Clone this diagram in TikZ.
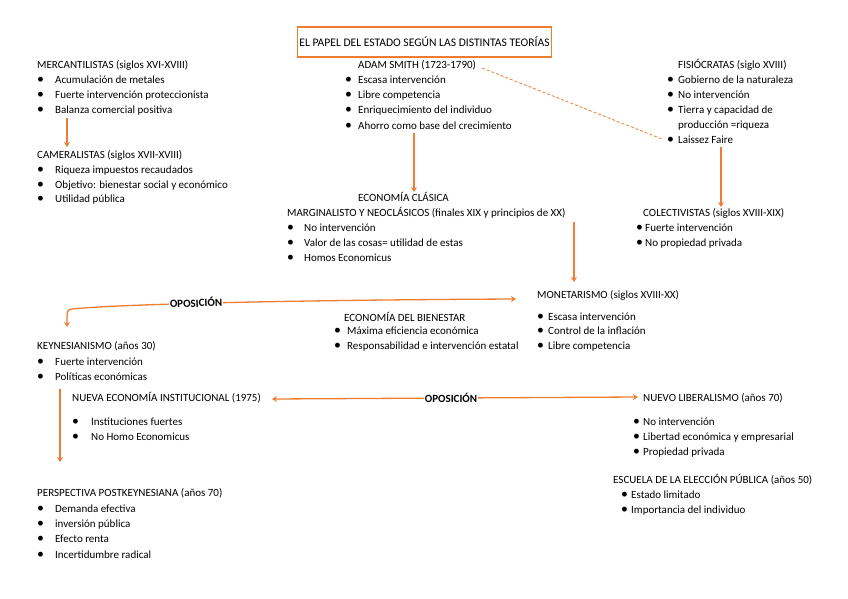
\documentclass[tikz,border=0pt]{standalone}
\usepackage{fontspec}
\setmainfont{Carlito}
\usetikzlibrary{arrows.meta}
\definecolor{og}{HTML}{ED7D31}
\newcommand{\bu}[1]{\makebox[#1pt][l]{\raisebox{-0.3pt}{\scalebox{1.25}{\textbullet}}}}
\begin{document}
\begin{tikzpicture}[x=1pt,y=-1pt,
  txt/.style={anchor=base west, inner sep=0pt, font=\fontsize{11}{12}\selectfont},
  bold/.style={inner sep=1pt, fill=white, font=\fontsize{11}{12}\selectfont\bfseries},
  arr/.style={draw=og, line width=1.3pt, -{Stealth[length=5pt,width=6pt]}},
  darr/.style={draw=og, line width=1.3pt, {Stealth[length=5pt,width=6pt]}-{Stealth[length=5pt,width=6pt]}},
  dsh/.style={draw=og, line width=0.8pt, dash pattern=on 3pt off 2pt}]
\useasboundingbox (0,0) rectangle (848,599);
% title
\node[draw=og, line width=1.4pt, minimum width=253pt, minimum height=30pt, inner sep=2pt, font=\fontsize{11.6}{12}\selectfont] (title) at (424.5,42) {EL PAPEL DEL ESTADO SEGÚN LAS DISTINTAS TEORÍAS};
% mercantilistas
\node[txt] (m0) at (37,68.5) {MERCANTILISTAS (siglos XVI-XVIII)};
\node[txt] (m1) at (37,83.5) {\bu{18}Acumulación de metales};
\node[txt] (m2) at (37,98.5) {\bu{18}Fuerte intervención proteccionista};
\node[txt] (m3) at (37,113.5) {\bu{18}Balanza comercial positiva};
% cameralistas
\node[txt] (c0) at (37,158.5) {CAMERALISTAS (siglos XVII-XVIII)};
\node[txt] (c1) at (37,173.5) {\bu{18}Riqueza impuestos recaudados};
\node[txt] (c2) at (37,188.5) {\bu{18}Objetivo: bienestar social y económico};
\node[txt] (c3) at (37,202.5) {\bu{18}Utilidad pública};
% adam smith
\node[txt] (a0) at (358,68.5) {ADAM SMITH (1723-1790)};
\node[txt] (a1) at (345,83.5) {\bu{13}Escasa intervención};
\node[txt] (a2) at (345,98.5) {\bu{13}Libre competencia};
\node[txt] (a3) at (345,113.5) {\bu{13}Enriquecimiento del individuo};
\node[txt] (a4) at (345,129) {\bu{13}Ahorro como base del crecimiento};
% fisiocratas
\node[txt] (f0) at (678,68.5) {FISIÓCRATAS (siglo XVIII)};
\node[txt] (f1) at (667,83.5) {\bu{11}Gobierno de la naturaleza};
\node[txt] (f2) at (667,98.5) {\bu{11}No intervención};
\node[txt] (f3) at (667,113.5) {\bu{11}Tierra y capacidad de};
\node[txt] (f4) at (678,128.5) {producción =riqueza};
\node[txt] (f5) at (667,143.5) {\bu{11}Laissez Faire};
% colectivistas
\node[txt] (k0) at (643,216.5) {COLECTIVISTAS (siglos XVIII-XIX)};
\node[txt] (k1) at (636,231.5) {\bu{9}Fuerte intervención};
\node[txt] (k2) at (636,246.5) {\bu{9}No propiedad privada};
% clasica
\node[txt] (e0) at (358,201.5) {ECONOMÍA CLÁSICA};
\node[txt] (e1) at (287,216.5) {MARGINALISTO Y NEOCLÁSICOS (finales XIX y principios de XX)};
\node[txt] (e2) at (287,231.5) {\bu{17}No intervención};
\node[txt] (e3) at (287,246.5) {\bu{17}Valor de las cosas= utilidad de estas};
\node[txt] (e4) at (287,261.5) {\bu{17}Homos Economicus};
% monetarismo
\node[txt] (n0) at (537,298.5) {MONETARISMO (siglos XVIII-XX)};
\node[txt] (n1) at (537,320.5) {\bu{11}Escasa intervención};
\node[txt] (n2) at (537,334.5) {\bu{11}Control de la inflación};
\node[txt] (n3) at (537,349.5) {\bu{11}Libre competencia};
% bienestar
\node[txt] (b0) at (344,321.5) {ECONOMÍA DEL BIENESTAR};
\node[txt] (b1) at (334,334.5) {\bu{13}Máxima eficiencia económica};
\node[txt] (b2) at (334,349.5) {\bu{13}Responsabilidad e intervención estatal};
% keynesianismo
\node[txt] (y0) at (37,349.5) {KEYNESIANISMO (años 30)};
\node[txt] (y1) at (37,365.5) {\bu{18}Fuerte intervención};
\node[txt] (y2) at (37,380.5) {\bu{18}Políticas económicas};
% institucional
\node[txt] (i0) at (72,401.5) {NUEVA ECONOMÍA INSTITUCIONAL (1975)};
\node[txt] (i1) at (72,425.5) {\bu{19}Instituciones fuertes};
\node[txt] (i2) at (72,440.5) {\bu{19}No Homo Economicus};
% nuevo liberalismo
\node[txt] (l0) at (643,401.5) {NUEVO LIBERALISMO (años 70)};
\node[txt] (l1) at (633,425.5) {\bu{10}No intervención};
\node[txt] (l2) at (633,440.5) {\bu{10}Libertad económica y empresarial};
\node[txt] (l3) at (633,455.5) {\bu{10}Propiedad privada};
% eleccion publica
\node[txt] (p0) at (613,483.5) {ESCUELA DE LA ELECCIÓN PÚBLICA (años 50)};
\node[txt] (p1) at (621,498.5) {\bu{10}Estado limitado};
\node[txt] (p2) at (621,513.5) {\bu{10}Importancia del individuo};
% postkeynesiana
\node[txt] (q0) at (37,496.5) {PERSPECTIVA POSTKEYNESIANA (años 70)};
\node[txt] (q1) at (37,512.5) {\bu{18}Demanda efectiva};
\node[txt] (q2) at (37,527.5) {\bu{18}inversión pública};
\node[txt] (q3) at (37,542.5) {\bu{18}Efecto renta};
\node[txt] (q4) at (37,558) {\bu{18}Incertidumbre radical};
% connectors
\coordinate (mA) at (67,118); \coordinate (mB) at (67,147);
\draw[arr] (mA) -- (mB);
\coordinate (aA) at (414,133); \coordinate (aB) at (414,192);
\draw[arr] (aA) -- (aB);
\coordinate (fA) at (721,147); \coordinate (fB) at (721,207);
\draw[arr] (fA) -- (fB);
\coordinate (eA) at (574,222); \coordinate (eB) at (574,282);
\draw[arr] (eA) -- (eB);
\coordinate (dA) at (482,68); \coordinate (dB) at (662,139);
\draw[dsh] (dA) -- (dB);
\coordinate (yA) at (60,389); \coordinate (yB) at (60,462);
\draw[arr] (yA) -- (yB);
\coordinate (o1R) at (516,299); \coordinate (o1L) at (67,327);
\draw[darr] (o1R) .. controls (300,300) and (120,304) .. (72,309) .. controls (67,310) .. (o1L);
\node[bold, rotate=2] (op1) at (196,302.5) {OPOSICIÓN};
\coordinate (o2L) at (272,399); \coordinate (o2R) at (638,397);
\draw[darr] (o2L) -- (o2R);
\node[bold] (op2) at (451,398) {OPOSICIÓN};
\end{tikzpicture}
\end{document}
